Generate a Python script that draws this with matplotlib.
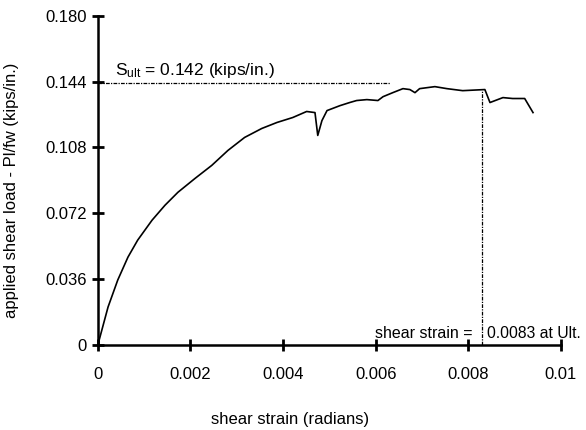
import matplotlib
matplotlib.use("Agg")
import matplotlib.pyplot as plt

# leitura aproximada da curva
strain = [0, 0.00022, 0.00043, 0.00065, 0.00086, 0.00117, 0.00145, 0.00173,
          0.00210, 0.00246, 0.00281, 0.00317, 0.00354, 0.00387, 0.00421,
          0.00451, 0.00469, 0.00475, 0.00484, 0.00495, 0.00523, 0.00544,
          0.00559, 0.00581, 0.00605, 0.00616, 0.00637, 0.00659, 0.00674,
          0.00685, 0.00695, 0.00728, 0.00754, 0.00788, 0.00836, 0.00847,
          0.00875, 0.00896, 0.00922, 0.00940]
load = [0, 0.0207, 0.0355, 0.0480, 0.0573, 0.0682, 0.0764, 0.0835,
        0.0911, 0.0982, 0.1064, 0.1135, 0.1184, 0.1217, 0.1244,
        0.1277, 0.1271, 0.1146, 0.1227, 0.1282, 0.1309, 0.1326,
        0.1337, 0.1342, 0.1337, 0.1358, 0.1380, 0.1402, 0.1397,
        0.1380, 0.1402, 0.1413, 0.1402, 0.1391, 0.1397, 0.1326,
        0.1353, 0.1348, 0.1348, 0.1271]

x_ticks = [0, 0.002, 0.004, 0.006, 0.008, 0.01]
x_labels = ["0", "0.002", "0.004", "0.006", "0.008", "0.01"]
y_ticks = [0, 0.036, 0.072, 0.108, 0.144, 0.180]
y_labels = ["0", "0.036", "0.072", "0.108", "0.144", "0.180"]

s_ult_line = 0.1435
s_ult_end = 0.0063
strain_ult = 0.0083
strain_ult_top = 0.1391

plt.rcParams["font.family"] = ["Liberation Sans", "DejaVu Sans"]
plt.rcParams["mathtext.default"] = "regular"

fs = 12

fig = plt.figure(figsize=(5.86, 4.3), dpi=100)
ax = fig.add_axes([0.167, 0.198, 0.79, 0.765])

ax.plot(strain, load, color="black", lw=1.2)

# linhas de referencia
ax.plot([0, s_ult_end], [s_ult_line, s_ult_line], color="black", lw=0.9,
        linestyle=(0, (3, 1, 1, 1)))
ax.plot([strain_ult, strain_ult], [0, strain_ult_top], color="black", lw=0.9,
        linestyle=(0, (3, 1, 1, 1)))

ax.text(0.00037, 0.1475, r"$S_{ult}$ = 0.142 (kips/in.)", fontsize=12.5,
        ha="left", va="baseline")
ax.text(0.0081, 0.004, "shear strain =", fontsize=11.5, ha="right", va="baseline")
ax.text(0.0084, 0.004, "0.0083 at Ult.", fontsize=11.3, ha="left", va="baseline",
        clip_on=False)

ax.set_xlim(0, 0.01)
ax.set_ylim(0, 0.18)
ax.set_xticks(x_ticks)
ax.set_xticklabels(x_labels)
ax.set_yticks(y_ticks)
ax.set_yticklabels(y_labels)

for s in ["top", "right"]:
    ax.spines[s].set_visible(False)
for s in ["left", "bottom"]:
    ax.spines[s].set_linewidth(1.8)

ax.tick_params(axis="both", direction="inout", length=8, width=2, labelsize=fs)
ax.tick_params(axis="x", pad=12)
ax.tick_params(axis="y", pad=4)

ax.set_xlabel("shear strain (radians)", fontsize=fs)
ax.set_ylabel("applied shear load - Pl/fw (kips/in.)", fontsize=fs)
ax.yaxis.set_label_coords(-0.17, 0.47)
ax.xaxis.set_label_coords(0.415, -0.204)

plt.savefig("out.png", dpi=100)
